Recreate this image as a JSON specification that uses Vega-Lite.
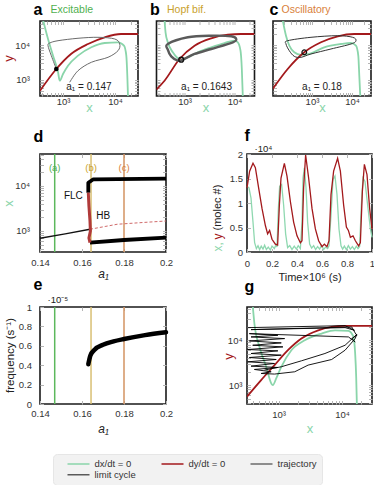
{
"$schema": "https://vega.github.io/schema/vega-lite/v6.json",
"padding": {"left": 1, "top": 0, "right": 0, "bottom": 0},
"config": {
 "font": "Liberation Sans",
 "view": {"stroke": "#1a1a1a", "strokeWidth": 1.6},
 "axis": {"grid": false, "domain": false, "tickColor": "#b5b5b5", "tickSize": -3.5, "tickWidth": 1, "labelFont": "Liberation Sans", "labelFontSize": 9.5, "labelColor": "#333333", "labelPadding": 8, "titleFont": "Liberation Sans", "titleFontWeight": "normal", "titleFontSize": 12, "titleColor": "#222222", "labelOverlap": false, "labelFlush": false},
 "legend": {"labelFont": "Liberation Sans"}
},
"datasets": {
 "nc": [
  {"p":"a","s":"dx/dt = 0","i":1,"x":413,"y":52000},
  {"p":"a","s":"dx/dt = 0","i":2,"x":515,"y":14860},
  {"p":"a","s":"dx/dt = 0","i":3,"x":643,"y":4955},
  {"p":"a","s":"dx/dt = 0","i":4,"x":802,"y":1693},
  {"p":"a","s":"dx/dt = 0","i":5,"x":865,"y":955},
  {"p":"a","s":"dx/dt = 0","i":6,"x":1000,"y":1486},
  {"p":"a","s":"dx/dt = 0","i":7,"x":1248,"y":2563},
  {"p":"a","s":"dx/dt = 0","i":8,"x":1945,"y":4955},
  {"p":"a","s":"dx/dt = 0","i":9,"x":3510,"y":8610},
  {"p":"a","s":"dx/dt = 0","i":10,"x":6340,"y":11400},
  {"p":"a","s":"dx/dt = 0","i":11,"x":11430,"y":11940},
  {"p":"a","s":"dx/dt = 0","i":12,"x":14890,"y":9550},
  {"p":"a","s":"dx/dt = 0","i":13,"x":16500,"y":4955},
  {"p":"a","s":"dx/dt = 0","i":14,"x":17260,"y":1327},
  {"p":"a","s":"dx/dt = 0","i":15,"x":17800,"y":330},
  {"p":"a","s":"dy/dt = 0","i":1,"x":361,"y":495},
  {"p":"a","s":"dy/dt = 0","i":2,"x":744,"y":2065},
  {"p":"a","s":"dy/dt = 0","i":3,"x":1425,"y":5535},
  {"p":"a","s":"dy/dt = 0","i":4,"x":3025,"y":10690},
  {"p":"a","s":"dy/dt = 0","i":5,"x":6340,"y":16600},
  {"p":"a","s":"dy/dt = 0","i":6,"x":13060,"y":20650},
  {"p":"a","s":"dy/dt = 0","i":7,"x":27700,"y":20650},
  {"p":"b","s":"dx/dt = 0","i":1,"x":398,"y":52000},
  {"p":"b","s":"dx/dt = 0","i":2,"x":417,"y":23070},
  {"p":"b","s":"dx/dt = 0","i":3,"x":463,"y":11940},
  {"p":"b","s":"dx/dt = 0","i":4,"x":583,"y":6190},
  {"p":"b","s":"dx/dt = 0","i":5,"x":735,"y":4170},
  {"p":"b","s":"dx/dt = 0","i":6,"x":859,"y":3800},
  {"p":"b","s":"dx/dt = 0","i":7,"x":1164,"y":4455},
  {"p":"b","s":"dx/dt = 0","i":8,"x":1845,"y":6190},
  {"p":"b","s":"dx/dt = 0","i":9,"x":3420,"y":8610},
  {"p":"b","s":"dx/dt = 0","i":10,"x":6310,"y":11400},
  {"p":"b","s":"dx/dt = 0","i":11,"x":10000,"y":13270},
  {"p":"b","s":"dx/dt = 0","i":12,"x":11640,"y":11940},
  {"p":"b","s":"dx/dt = 0","i":13,"x":13180,"y":6870},
  {"p":"b","s":"dx/dt = 0","i":14,"x":14000,"y":2065},
  {"p":"b","s":"dx/dt = 0","i":15,"x":14660,"y":330},
  {"p":"b","s":"dy/dt = 0","i":1,"x":272,"y":528},
  {"p":"b","s":"dy/dt = 0","i":2,"x":398,"y":955},
  {"p":"b","s":"dy/dt = 0","i":3,"x":794,"y":3981},
  {"p":"b","s":"dy/dt = 0","i":4,"x":1585,"y":9550},
  {"p":"b","s":"dy/dt = 0","i":5,"x":3420,"y":15560},
  {"p":"b","s":"dy/dt = 0","i":6,"x":7345,"y":19720},
  {"p":"b","s":"dy/dt = 0","i":7,"x":13600,"y":20650},
  {"p":"b","s":"dy/dt = 0","i":8,"x":25100,"y":20650},
  {"p":"c","s":"dx/dt = 0","i":1,"x":185,"y":52000},
  {"p":"c","s":"dx/dt = 0","i":2,"x":224,"y":18450},
  {"p":"c","s":"dx/dt = 0","i":3,"x":271,"y":9550},
  {"p":"c","s":"dx/dt = 0","i":4,"x":361,"y":6190},
  {"p":"c","s":"dx/dt = 0","i":5,"x":531,"y":5190},
  {"p":"c","s":"dx/dt = 0","i":6,"x":944,"y":5800},
  {"p":"c","s":"dx/dt = 0","i":7,"x":2030,"y":8610},
  {"p":"c","s":"dx/dt = 0","i":8,"x":5310,"y":10690},
  {"p":"c","s":"dx/dt = 0","i":9,"x":9440,"y":11400},
  {"p":"c","s":"dx/dt = 0","i":10,"x":12590,"y":9550},
  {"p":"c","s":"dx/dt = 0","i":11,"x":14380,"y":4955},
  {"p":"c","s":"dx/dt = 0","i":12,"x":15240,"y":1327},
  {"p":"c","s":"dx/dt = 0","i":13,"x":16150,"y":330},
  {"p":"c","s":"dy/dt = 0","i":1,"x":104,"y":553},
  {"p":"c","s":"dy/dt = 0","i":2,"x":247,"y":2065},
  {"p":"c","s":"dy/dt = 0","i":3,"x":642,"y":6190},
  {"p":"c","s":"dy/dt = 0","i":4,"x":1680,"y":11940},
  {"p":"c","s":"dy/dt = 0","i":5,"x":4390,"y":17740},
  {"p":"c","s":"dy/dt = 0","i":6,"x":11420,"y":20650},
  {"p":"c","s":"dy/dt = 0","i":7,"x":29850,"y":20650},
  {"p":"g","s":"dx/dt = 0","i":1,"x":391,"y":60000},
  {"p":"g","s":"dx/dt = 0","i":2,"x":416,"y":23500},
  {"p":"g","s":"dx/dt = 0","i":3,"x":499,"y":7130},
  {"p":"g","s":"dx/dt = 0","i":4,"x":638,"y":2560},
  {"p":"g","s":"dx/dt = 0","i":5,"x":766,"y":1092},
  {"p":"g","s":"dx/dt = 0","i":6,"x":811,"y":1000},
  {"p":"g","s":"dx/dt = 0","i":7,"x":918,"y":1410},
  {"p":"g","s":"dx/dt = 0","i":8,"x":1103,"y":2560},
  {"p":"g","s":"dx/dt = 0","i":9,"x":1590,"y":5995},
  {"p":"g","s":"dx/dt = 0","i":10,"x":2586,"y":10000},
  {"p":"g","s":"dx/dt = 0","i":11,"x":4760,"y":14090},
  {"p":"g","s":"dx/dt = 0","i":12,"x":7740,"y":16680},
  {"p":"g","s":"dx/dt = 0","i":13,"x":12600,"y":16180},
  {"p":"g","s":"dx/dt = 0","i":14,"x":15100,"y":11890},
  {"p":"g","s":"dx/dt = 0","i":15,"x":16070,"y":5060},
  {"p":"g","s":"dx/dt = 0","i":16,"x":16680,"y":1535},
  {"p":"g","s":"dx/dt = 0","i":17,"x":17100,"y":370},
  {"p":"g","s":"dy/dt = 0","i":1,"x":318,"y":552},
  {"p":"g","s":"dy/dt = 0","i":2,"x":531,"y":1291},
  {"p":"g","s":"dy/dt = 0","i":3,"x":863,"y":2780},
  {"p":"g","s":"dy/dt = 0","i":4,"x":1403,"y":5995},
  {"p":"g","s":"dy/dt = 0","i":5,"x":2290,"y":10910},
  {"p":"g","s":"dy/dt = 0","i":6,"x":4205,"y":16680},
  {"p":"g","s":"dy/dt = 0","i":7,"x":6860,"y":19860},
  {"p":"g","s":"dy/dt = 0","i":8,"x":11150,"y":20900},
  {"p":"g","s":"dy/dt = 0","i":9,"x":29600,"y":20900}
 ],
 "tr": [
  {"p":"a","s":"trajectory","i":1,"x":1346,"y":861},
  {"p":"a","s":"trajectory","i":2,"x":1945,"y":1845},
  {"p":"a","s":"trajectory","i":3,"x":3510,"y":3206},
  {"p":"a","s":"trajectory","i":4,"x":7345,"y":4455},
  {"p":"a","s":"trajectory","i":5,"x":11430,"y":6870},
  {"p":"a","s":"trajectory","i":6,"x":12330,"y":10690},
  {"p":"a","s":"trajectory","i":7,"x":9880,"y":14860},
  {"p":"a","s":"trajectory","i":8,"x":4710,"y":16600},
  {"p":"a","s":"trajectory","i":9,"x":1945,"y":15560},
  {"p":"a","s":"trajectory","i":10,"x":802,"y":13270},
  {"p":"a","s":"trajectory","i":11,"x":556,"y":11400},
  {"p":"a","s":"trajectory","i":12,"x":515,"y":9550},
  {"p":"a","s":"trajectory","i":13,"x":596,"y":4955},
  {"p":"a","s":"trajectory","i":14,"x":744,"y":2065},
  {"p":"b","s":"limit cycle","i":1,"x":463,"y":10690},
  {"p":"b","s":"limit cycle","i":2,"x":1164,"y":16600},
  {"p":"b","s":"limit cycle","i":3,"x":3420,"y":18450},
  {"p":"b","s":"limit cycle","i":4,"x":8590,"y":17740},
  {"p":"b","s":"limit cycle","i":5,"x":10810,"y":14860},
  {"p":"b","s":"limit cycle","i":6,"x":9250,"y":11940},
  {"p":"b","s":"limit cycle","i":7,"x":3420,"y":7690},
  {"p":"b","s":"limit cycle","i":8,"x":1585,"y":5535},
  {"p":"b","s":"limit cycle","i":9,"x":925,"y":3800},
  {"p":"b","s":"limit cycle","i":10,"x":735,"y":3565},
  {"p":"b","s":"limit cycle","i":11,"x":542,"y":4750},
  {"p":"b","s":"limit cycle","i":12,"x":463,"y":7345},
  {"p":"c","s":"limit cycle","i":1,"x":247,"y":13270},
  {"p":"c","s":"limit cycle","i":2,"x":944,"y":16600},
  {"p":"c","s":"limit cycle","i":3,"x":4390,"y":18450},
  {"p":"c","s":"limit cycle","i":4,"x":10420,"y":16600},
  {"p":"c","s":"limit cycle","i":5,"x":12590,"y":13270},
  {"p":"c","s":"limit cycle","i":6,"x":9440,"y":10690},
  {"p":"c","s":"limit cycle","i":7,"x":2985,"y":7690},
  {"p":"c","s":"limit cycle","i":8,"x":944,"y":5535},
  {"p":"c","s":"limit cycle","i":9,"x":531,"y":4455},
  {"p":"c","s":"limit cycle","i":10,"x":361,"y":4750},
  {"p":"c","s":"limit cycle","i":11,"x":271,"y":6870},
  {"p":"c","s":"limit cycle","i":12,"x":224,"y":10690},
  {"p":"g","s":"trajectory","i":1,"x":326,"y":19130},
  {"p":"g","s":"trajectory","i":2,"x":11150,"y":21180},
  {"p":"g","s":"trajectory","i":3,"x":15670,"y":16680},
  {"p":"g","s":"trajectory","i":4,"x":11150,"y":19130},
  {"p":"g","s":"trajectory","i":5,"x":368,"y":17270},
  {"p":"g","s":"trajectory","i":6,"x":14220,"y":19770},
  {"p":"g","s":"trajectory","i":7,"x":16070,"y":14550},
  {"p":"g","s":"trajectory","i":8,"x":17100,"y":12910},
  {"p":"g","s":"trajectory","i":9,"x":14220,"y":10890},
  {"p":"g","s":"trajectory","i":10,"x":16070,"y":9180},
  {"p":"g","s":"trajectory","i":11,"x":12590,"y":11860},
  {"p":"g","s":"trajectory","i":12,"x":346,"y":14060},
  {"p":"g","s":"trajectory","i":13,"x":975,"y":12910},
  {"p":"g","s":"trajectory","i":14,"x":368,"y":11860},
  {"p":"g","s":"trajectory","i":15,"x":1245,"y":10890},
  {"p":"g","s":"trajectory","i":16,"x":346,"y":9660},
  {"p":"g","s":"trajectory","i":17,"x":1102,"y":8730},
  {"p":"g","s":"trajectory","i":18,"x":391,"y":7740},
  {"p":"g","s":"trajectory","i":19,"x":1170,"y":7110},
  {"p":"g","s":"trajectory","i":20,"x":326,"y":6210},
  {"p":"g","s":"trajectory","i":21,"x":975,"y":5800},
  {"p":"g","s":"trajectory","i":22,"x":368,"y":5060},
  {"p":"g","s":"trajectory","i":23,"x":1102,"y":4650},
  {"p":"g","s":"trajectory","i":24,"x":346,"y":4120},
  {"p":"g","s":"trajectory","i":25,"x":918,"y":3720},
  {"p":"g","s":"trajectory","i":26,"x":326,"y":3300},
  {"p":"g","s":"trajectory","i":27,"x":863,"y":3030},
  {"p":"g","s":"trajectory","i":28,"x":368,"y":2645},
  {"p":"g","s":"trajectory","i":29,"x":975,"y":2470},
  {"p":"g","s":"trajectory","i":30,"x":416,"y":2230},
  {"p":"g","s":"trajectory","i":31,"x":764,"y":1980},
  {"p":"g","s":"trajectory","i":32,"x":531,"y":1815},
  {"p":"g","s":"trajectory","i":33,"x":863,"y":1760},
  {"p":"g","s":"trajectory","i":34,"x":1795,"y":1980},
  {"p":"g","s":"trajectory","i":35,"x":2920,"y":2790},
  {"p":"g","s":"trajectory","i":36,"x":6860,"y":3720},
  {"p":"g","s":"trajectory","i":37,"x":11150,"y":6000},
  {"p":"g","s":"trajectory","i":38,"x":16070,"y":10890},
  {"p":"g","s":"trajectory","i":39,"x":17100,"y":13600},
  {"p":"g","s":"trajectory","i":40,"x":11150,"y":7740},
  {"p":"g","s":"trajectory","i":41,"x":5370,"y":5060},
  {"p":"g","s":"trajectory","i":42,"x":2290,"y":3475},
  {"p":"g","s":"trajectory","i":43,"x":1102,"y":2560},
  {"p":"g","s":"trajectory","i":44,"x":599,"y":2160}
 ],
 "fp": [
  {"p":"a","x":744,"y":2065},
  {"p":"b","x":859,"y":3800},
  {"p":"c","x":642,"y":6190}
 ],
 "bif": [
  {"seg":"stable","i":1,"a1":0.14,"v":689},
  {"seg":"stable","i":2,"a1":0.152,"v":867},
  {"seg":"stable","i":3,"a1":0.1638,"v":1092},
  {"seg":"unstable","i":1,"a1":0.1638,"v":1092},
  {"seg":"unstable","i":2,"a1":0.171,"v":1259},
  {"seg":"unstable","i":3,"a1":0.1767,"v":1409},
  {"seg":"unstable","i":4,"a1":0.1876,"v":1528},
  {"seg":"unstable","i":5,"a1":0.2,"v":1667},
  {"seg":"upper","i":1,"a1":0.163,"v":7100},
  {"seg":"upper","i":2,"a1":0.163,"v":11830},
  {"seg":"upper","i":3,"a1":0.1654,"v":14090},
  {"seg":"upper","i":4,"a1":0.2,"v":14530},
  {"seg":"lower","i":1,"a1":0.1638,"v":550},
  {"seg":"lower","i":2,"a1":0.18,"v":630},
  {"seg":"lower","i":3,"a1":0.2,"v":710},
  {"seg":"red","i":1,"a1":0.163,"v":7100},
  {"seg":"red","i":2,"a1":0.1633,"v":3590},
  {"seg":"red","i":3,"a1":0.1638,"v":1667},
  {"seg":"red","i":4,"a1":0.164,"v":1000},
  {"seg":"red","i":5,"a1":0.1633,"v":698},
  {"seg":"red","i":6,"a1":0.1638,"v":550}
 ],
 "freq": [
  {"a1":0.163,"f":0.41},
  {"a1":0.164,"f":0.5},
  {"a1":0.166,"f":0.56},
  {"a1":0.17,"f":0.61},
  {"a1":0.175,"f":0.645},
  {"a1":0.18,"f":0.67},
  {"a1":0.19,"f":0.71},
  {"a1":0.2,"f":0.74}
 ],
 "vl": [
  {"k":"(a)","a1":0.147},
  {"k":"(b)","a1":0.1643},
  {"k":"(c)","a1":0.18}
 ],
 "ts": [
  {"v":"x","t":0,"n":1.34},{"v":"x","t":0.016,"n":1.31},{"v":"x","t":0.032,"n":1.1},{"v":"x","t":0.048,"n":0.61},{"v":"x","t":0.061,"n":0.19},{"v":"x","t":0.075,"n":0.07},{"v":"x","t":0.088,"n":0.13},{"v":"x","t":0.101,"n":0.05},{"v":"x","t":0.114,"n":0.12},{"v":"x","t":0.128,"n":0.06},{"v":"x","t":0.141,"n":0.14},{"v":"x","t":0.155,"n":0.05},{"v":"x","t":0.17,"n":0.1},{"v":"x","t":0.187,"n":0.04},{"v":"x","t":0.2,"n":0.12},{"v":"x","t":0.219,"n":0.07},{"v":"x","t":0.232,"n":0.15},{"v":"x","t":0.24,"n":0.1},{"v":"x","t":0.251,"n":0.89},{"v":"x","t":0.261,"n":1.34},{"v":"x","t":0.277,"n":1.375},{"v":"x","t":0.293,"n":0.96},{"v":"x","t":0.309,"n":0.37},{"v":"x","t":0.325,"n":0.09},{"v":"x","t":0.342,"n":0.13},{"v":"x","t":0.36,"n":0.05},{"v":"x","t":0.378,"n":0.12},{"v":"x","t":0.395,"n":0.06},{"v":"x","t":0.41,"n":0.13},{"v":"x","t":0.427,"n":0.07},{"v":"x","t":0.44,"n":0.61},{"v":"x","t":0.448,"n":1.51},{"v":"x","t":0.459,"n":1.72},{"v":"x","t":0.472,"n":1.31},{"v":"x","t":0.485,"n":0.61},{"v":"x","t":0.501,"n":0.16},{"v":"x","t":0.517,"n":0.08},{"v":"x","t":0.533,"n":0.13},{"v":"x","t":0.549,"n":0.05},{"v":"x","t":0.565,"n":0.11},{"v":"x","t":0.581,"n":0.06},{"v":"x","t":0.597,"n":0.14},{"v":"x","t":0.613,"n":0.05},{"v":"x","t":0.629,"n":0.1},{"v":"x","t":0.645,"n":0.07},{"v":"x","t":0.656,"n":0.125},{"v":"x","t":0.672,"n":0.75},{"v":"x","t":0.688,"n":1.48},{"v":"x","t":0.704,"n":1.55},{"v":"x","t":0.72,"n":1.17},{"v":"x","t":0.736,"n":0.47},{"v":"x","t":0.752,"n":0.125},{"v":"x","t":0.765,"n":0.06},{"v":"x","t":0.779,"n":0.12},{"v":"x","t":0.795,"n":0.05},{"v":"x","t":0.811,"n":0.13},{"v":"x","t":0.827,"n":0.06},{"v":"x","t":0.843,"n":0.11},{"v":"x","t":0.859,"n":0.05},{"v":"x","t":0.875,"n":0.12},{"v":"x","t":0.888,"n":0.07},{"v":"x","t":0.901,"n":0.11},{"v":"x","t":0.915,"n":0.96},{"v":"x","t":0.928,"n":1.51},{"v":"x","t":0.944,"n":1.44},{"v":"x","t":0.965,"n":0.96},{"v":"x","t":0.987,"n":0.47},{"v":"x","t":1.0,"n":0.3},
  {"v":"y","t":0,"n":1.31},{"v":"y","t":0.021,"n":1.65},{"v":"y","t":0.048,"n":1.81},{"v":"y","t":0.067,"n":1.72},{"v":"y","t":0.093,"n":1.31},{"v":"y","t":0.12,"n":0.89},{"v":"y","t":0.147,"n":0.54},{"v":"y","t":0.165,"n":0.37},{"v":"y","t":0.181,"n":0.44},{"v":"y","t":0.2,"n":0.26},{"v":"y","t":0.227,"n":0.16},{"v":"y","t":0.245,"n":0.14},{"v":"y","t":0.259,"n":0.96},{"v":"y","t":0.272,"n":1.51},{"v":"y","t":0.299,"n":1.81},{"v":"y","t":0.32,"n":1.55},{"v":"y","t":0.347,"n":1.03},{"v":"y","t":0.373,"n":0.61},{"v":"y","t":0.4,"n":0.33},{"v":"y","t":0.427,"n":0.19},{"v":"y","t":0.44,"n":0.23},{"v":"y","t":0.453,"n":1.31},{"v":"y","t":0.469,"n":1.98},{"v":"y","t":0.493,"n":1.51},{"v":"y","t":0.52,"n":0.89},{"v":"y","t":0.547,"n":0.47},{"v":"y","t":0.573,"n":0.23},{"v":"y","t":0.6,"n":0.11},{"v":"y","t":0.619,"n":0.16},{"v":"y","t":0.64,"n":0.11},{"v":"y","t":0.656,"n":0.23},{"v":"y","t":0.672,"n":1.17},{"v":"y","t":0.693,"n":1.65},{"v":"y","t":0.725,"n":1.91},{"v":"y","t":0.747,"n":1.65},{"v":"y","t":0.773,"n":0.96},{"v":"y","t":0.795,"n":0.51},{"v":"y","t":0.811,"n":0.44},{"v":"y","t":0.827,"n":0.3},{"v":"y","t":0.848,"n":0.33},{"v":"y","t":0.867,"n":0.23},{"v":"y","t":0.893,"n":0.125},{"v":"y","t":0.907,"n":0.19},{"v":"y","t":0.923,"n":1.24},{"v":"y","t":0.939,"n":1.79},{"v":"y","t":0.96,"n":1.58},{"v":"y","t":0.981,"n":0.89},{"v":"y","t":1.0,"n":0.47}
 ]
},
"resolve": {"scale": {"color": "shared", "stroke": "shared", "fill": "shared"}},
"spacing": 10,
"vconcat": [
 {"hconcat": [
  {"width": 98, "height": 75,
   "layer": [
    {"data": {"name": "nc"}, "transform": [{"filter": "datum.p == 'a' && datum.s == 'dx/dt = 0'"}],
     "mark": {"type": "line", "clip": true, "strokeWidth": 1.8, "interpolate": "monotone"},
     "encoding": {
      "x": {"field": "x", "type": "quantitative", "scale": {"type": "log", "domain": [361, 27700], "nice": false}, "axis": {"orient": "bottom", "values": [400,500,600,700,800,900,1000,2000,3000,4000,5000,6000,7000,8000,9000,10000,20000], "labelExpr": "datum.value == 1000 ? '10³' : datum.value == 10000 ? '10⁴' : ''", "labelPadding": 3.5, "title": "x", "titleColor": "#8ad5aa", "titleFontSize": 13, "titleY": 11.5, "titleBaseline": "middle"}},
      "y": {"field": "y", "type": "quantitative", "scale": {"type": "log", "domain": [349, 48500], "nice": false}, "axis": {"orient": "left", "values": [400,500,600,700,800,900,1000,2000,3000,4000,5000,6000,7000,8000,9000,10000,20000,30000,40000], "labelExpr": "datum.value == 1000 ? '10³' : datum.value == 10000 ? '10⁴' : ''", "labelPadding": 14, "title": "y", "titleColor": "#a3191c", "titleFontSize": 13, "titleX": -32, "titleY": 37, "titleBaseline": "middle"}},
      "order": {"field": "i", "type": "quantitative"},
      "color": {"field": "s", "type": "nominal", "scale": {"domain": ["dx/dt = 0","dy/dt = 0","trajectory","limit cycle"], "range": ["#8ad5aa","#a3191c","#6b6b6b","#5a5a5a"]},
       "legend": {"orient": "none", "legendX": 13, "legendY": 433, "direction": "horizontal", "columns": 3, "title": null, "symbolType": "stroke", "symbolSize": 484, "symbolStrokeWidth": 1.5, "labelFontSize": 9.5, "labelColor": "#333333", "fillColor": "#f2f2f2", "strokeColor": "#e6e6e6", "cornerRadius": 4, "padding": 4.5, "symbolOffset": 9, "columnPadding": 15, "rowPadding": 0, "labelOffset": 4, "clipHeight": 10.5}}
     }},
    {"data": {"name": "nc"}, "transform": [{"filter": "datum.p == 'a' && datum.s == 'dy/dt = 0'"}],
     "mark": {"type": "line", "clip": true, "strokeWidth": 1.8, "interpolate": "monotone"},
     "encoding": {
      "x": {"field": "x", "type": "quantitative", "scale": {"type": "log", "domain": [361, 27700], "nice": false}, "axis": {"orient": "top", "values": [400,500,600,700,800,900,1000,2000,3000,4000,5000,6000,7000,8000,9000,10000,20000], "labels": false, "title": "Excitable", "titleColor": "#4fb04f", "titleFontSize": 10.5, "titleX": 10, "titleY": -12, "titleAlign": "left", "titleBaseline": "middle", "titleAngle": 0}},
      "y": {"field": "y", "type": "quantitative", "scale": {"type": "log", "domain": [349, 48500], "nice": false}, "axis": {"orient": "right", "values": [400,500,600,700,800,900,1000,2000,3000,4000,5000,6000,7000,8000,9000,10000,20000,30000,40000], "labels": false, "title": null}},
      "order": {"field": "i", "type": "quantitative"},
      "color": {"field": "s", "type": "nominal", "scale": {"domain": ["dx/dt = 0","dy/dt = 0","trajectory","limit cycle"], "range": ["#8ad5aa","#a3191c","#6b6b6b","#5a5a5a"]}, "legend": null}
     }},
    {"data": {"name": "tr"}, "transform": [{"filter": "datum.p == 'a'"}],
     "mark": {"type": "line", "clip": true, "strokeWidth": 1, "interpolate": "cardinal"},
     "encoding": {
      "x": {"field": "x", "type": "quantitative", "scale": {"type": "log", "domain": [361, 27700], "nice": false}, "axis": {"orient": "top", "ticks": false, "labels": false, "title": "a", "titleFontSize": 16, "titleFontWeight": "bold", "titleColor": "#000000", "titleX": -7, "titleY": -11.5, "titleAlign": "left", "titleBaseline": "middle", "titleAngle": 0}},
      "y": {"field": "y", "type": "quantitative", "scale": {"type": "log", "domain": [349, 48500], "nice": false}, "axis": null},
      "order": {"field": "i", "type": "quantitative"},
      "color": {"field": "s", "type": "nominal", "scale": {"domain": ["dx/dt = 0","dy/dt = 0","trajectory","limit cycle"], "range": ["#8ad5aa","#a3191c","#6b6b6b","#5a5a5a"]}, "legend": null}
     }},
    {"data": {"name": "fp"}, "transform": [{"filter": "datum.p == 'a'"}],
     "mark": {"type": "point", "filled": true, "color": "#000000", "size": 22, "opacity": 1},
     "encoding": {
      "x": {"field": "x", "type": "quantitative", "scale": {"type": "log", "domain": [361, 27700], "nice": false}, "axis": null},
      "y": {"field": "y", "type": "quantitative", "scale": {"type": "log", "domain": [349, 48500], "nice": false}, "axis": null}
     }},
    {"data": {"values": [{}]},
     "mark": {"type": "text", "text": "a₁ = 0.147", "fontSize": 10, "color": "#222222"},
     "encoding": {
      "x": {"datum": 3160, "type": "quantitative", "scale": {"type": "log", "domain": [361, 27700], "nice": false}, "axis": null},
      "y": {"datum": 631, "type": "quantitative", "scale": {"type": "log", "domain": [349, 48500], "nice": false}, "axis": null}
     }}
   ],
   "resolve": {"axis": {"x": "independent", "y": "independent"}}
  },
  {"width": 98, "height": 75,
   "layer": [
    {"data": {"name": "nc"}, "transform": [{"filter": "datum.p == 'b' && datum.s == 'dx/dt = 0'"}],
     "mark": {"type": "line", "clip": true, "strokeWidth": 1.8, "interpolate": "monotone"},
     "encoding": {
      "x": {"field": "x", "type": "quantitative", "scale": {"type": "log", "domain": [275, 25100], "nice": false}, "axis": {"orient": "bottom", "values": [300,400,500,600,700,800,900,1000,2000,3000,4000,5000,6000,7000,8000,9000,10000,20000], "labelExpr": "datum.value == 1000 ? '10³' : datum.value == 10000 ? '10⁴' : ''", "labelPadding": 3.5, "title": "x", "titleColor": "#8ad5aa", "titleFontSize": 13, "titleY": 11.5, "titleBaseline": "middle"}},
      "y": {"field": "y", "type": "quantitative", "scale": {"type": "log", "domain": [349, 48500], "nice": false}, "axis": {"orient": "left", "values": [400,500,600,700,800,900,1000,2000,3000,4000,5000,6000,7000,8000,9000,10000,20000,30000,40000], "labels": false, "title": null}},
      "order": {"field": "i", "type": "quantitative"},
      "color": {"field": "s", "type": "nominal", "scale": {"domain": ["dx/dt = 0","dy/dt = 0","trajectory","limit cycle"], "range": ["#8ad5aa","#a3191c","#6b6b6b","#5a5a5a"]}, "legend": null}
     }},
    {"data": {"name": "nc"}, "transform": [{"filter": "datum.p == 'b' && datum.s == 'dy/dt = 0'"}],
     "mark": {"type": "line", "clip": true, "strokeWidth": 1.8, "interpolate": "monotone"},
     "encoding": {
      "x": {"field": "x", "type": "quantitative", "scale": {"type": "log", "domain": [275, 25100], "nice": false}, "axis": {"orient": "top", "values": [300,400,500,600,700,800,900,1000,2000,3000,4000,5000,6000,7000,8000,9000,10000,20000], "labels": false, "title": "Hopf bif.", "titleColor": "#c9a12c", "titleFontSize": 10.5, "titleX": 10, "titleY": -12, "titleAlign": "left", "titleBaseline": "middle", "titleAngle": 0}},
      "y": {"field": "y", "type": "quantitative", "scale": {"type": "log", "domain": [349, 48500], "nice": false}, "axis": {"orient": "right", "values": [400,500,600,700,800,900,1000,2000,3000,4000,5000,6000,7000,8000,9000,10000,20000,30000,40000], "labels": false, "title": null}},
      "order": {"field": "i", "type": "quantitative"},
      "color": {"field": "s", "type": "nominal", "scale": {"domain": ["dx/dt = 0","dy/dt = 0","trajectory","limit cycle"], "range": ["#8ad5aa","#a3191c","#6b6b6b","#5a5a5a"]}, "legend": null}
     }},
    {"data": {"name": "tr"}, "transform": [{"filter": "datum.p == 'b'"}],
     "mark": {"type": "line", "clip": true, "strokeWidth": 2.4, "interpolate": "cardinal-closed"},
     "encoding": {
      "x": {"field": "x", "type": "quantitative", "scale": {"type": "log", "domain": [275, 25100], "nice": false}, "axis": {"orient": "top", "ticks": false, "labels": false, "title": "b", "titleFontSize": 16, "titleFontWeight": "bold", "titleColor": "#000000", "titleX": -7, "titleY": -11.5, "titleAlign": "left", "titleBaseline": "middle", "titleAngle": 0}},
      "y": {"field": "y", "type": "quantitative", "scale": {"type": "log", "domain": [349, 48500], "nice": false}, "axis": null},
      "order": {"field": "i", "type": "quantitative"},
      "color": {"field": "s", "type": "nominal", "scale": {"domain": ["dx/dt = 0","dy/dt = 0","trajectory","limit cycle"], "range": ["#8ad5aa","#a3191c","#6b6b6b","#5a5a5a"]}, "legend": null}
     }},
    {"data": {"name": "fp"}, "transform": [{"filter": "datum.p == 'b'"}],
     "mark": {"type": "point", "filled": false, "color": "#111111", "strokeWidth": 1.3, "size": 24, "opacity": 1},
     "encoding": {
      "x": {"field": "x", "type": "quantitative", "scale": {"type": "log", "domain": [275, 25100], "nice": false}, "axis": null},
      "y": {"field": "y", "type": "quantitative", "scale": {"type": "log", "domain": [349, 48500], "nice": false}, "axis": null}
     }},
    {"data": {"values": [{}]},
     "mark": {"type": "text", "text": "a₁ = 0.1643", "fontSize": 10, "color": "#222222"},
     "encoding": {
      "x": {"datum": 2754, "type": "quantitative", "scale": {"type": "log", "domain": [275, 25100], "nice": false}, "axis": null},
      "y": {"datum": 631, "type": "quantitative", "scale": {"type": "log", "domain": [349, 48500], "nice": false}, "axis": null}
     }}
   ],
   "resolve": {"axis": {"x": "independent", "y": "independent"}}
  },
  {"width": 98, "height": 75,
   "layer": [
    {"data": {"name": "nc"}, "transform": [{"filter": "datum.p == 'c' && datum.s == 'dx/dt = 0'"}],
     "mark": {"type": "line", "clip": true, "strokeWidth": 1.8, "interpolate": "monotone"},
     "encoding": {
      "x": {"field": "x", "type": "quantitative", "scale": {"type": "log", "domain": [106, 29900], "nice": false}, "axis": {"orient": "bottom", "values": [200,300,400,500,600,700,800,900,1000,2000,3000,4000,5000,6000,7000,8000,9000,10000,20000], "labelExpr": "datum.value == 1000 ? '10³' : datum.value == 10000 ? '10⁴' : ''", "labelPadding": 3.5, "title": "x", "titleColor": "#8ad5aa", "titleFontSize": 13, "titleY": 11.5, "titleBaseline": "middle"}},
      "y": {"field": "y", "type": "quantitative", "scale": {"type": "log", "domain": [349, 48500], "nice": false}, "axis": {"orient": "left", "values": [400,500,600,700,800,900,1000,2000,3000,4000,5000,6000,7000,8000,9000,10000,20000,30000,40000], "labels": false, "title": null}},
      "order": {"field": "i", "type": "quantitative"},
      "color": {"field": "s", "type": "nominal", "scale": {"domain": ["dx/dt = 0","dy/dt = 0","trajectory","limit cycle"], "range": ["#8ad5aa","#a3191c","#6b6b6b","#5a5a5a"]}, "legend": null}
     }},
    {"data": {"name": "nc"}, "transform": [{"filter": "datum.p == 'c' && datum.s == 'dy/dt = 0'"}],
     "mark": {"type": "line", "clip": true, "strokeWidth": 1.8, "interpolate": "monotone"},
     "encoding": {
      "x": {"field": "x", "type": "quantitative", "scale": {"type": "log", "domain": [106, 29900], "nice": false}, "axis": {"orient": "top", "values": [200,300,400,500,600,700,800,900,1000,2000,3000,4000,5000,6000,7000,8000,9000,10000,20000], "labels": false, "title": "Oscillatory", "titleColor": "#d9803a", "titleFontSize": 10.5, "titleX": 8, "titleY": -12, "titleAlign": "left", "titleBaseline": "middle", "titleAngle": 0}},
      "y": {"field": "y", "type": "quantitative", "scale": {"type": "log", "domain": [349, 48500], "nice": false}, "axis": {"orient": "right", "values": [400,500,600,700,800,900,1000,2000,3000,4000,5000,6000,7000,8000,9000,10000,20000,30000,40000], "labels": false, "title": null}},
      "order": {"field": "i", "type": "quantitative"},
      "color": {"field": "s", "type": "nominal", "scale": {"domain": ["dx/dt = 0","dy/dt = 0","trajectory","limit cycle"], "range": ["#8ad5aa","#a3191c","#6b6b6b","#5a5a5a"]}, "legend": null}
     }},
    {"data": {"name": "tr"}, "transform": [{"filter": "datum.p == 'c'"}],
     "mark": {"type": "line", "clip": true, "strokeWidth": 1, "interpolate": "cardinal-closed", "color": "#333333"},
     "encoding": {
      "x": {"field": "x", "type": "quantitative", "scale": {"type": "log", "domain": [106, 29900], "nice": false}, "axis": {"orient": "top", "ticks": false, "labels": false, "title": "c", "titleFontSize": 16, "titleFontWeight": "bold", "titleColor": "#000000", "titleX": -4, "titleY": -11.5, "titleAlign": "left", "titleBaseline": "middle", "titleAngle": 0}},
      "y": {"field": "y", "type": "quantitative", "scale": {"type": "log", "domain": [349, 48500], "nice": false}, "axis": null},
      "order": {"field": "i", "type": "quantitative"}
     }},
    {"data": {"name": "fp"}, "transform": [{"filter": "datum.p == 'c'"}],
     "mark": {"type": "point", "filled": false, "color": "#111111", "strokeWidth": 1.2, "size": 22, "opacity": 1},
     "encoding": {
      "x": {"field": "x", "type": "quantitative", "scale": {"type": "log", "domain": [106, 29900], "nice": false}, "axis": null},
      "y": {"field": "y", "type": "quantitative", "scale": {"type": "log", "domain": [349, 48500], "nice": false}, "axis": null}
     }},
    {"data": {"values": [{}]},
     "mark": {"type": "text", "text": "a₁ = 0.18", "fontSize": 10, "color": "#222222"},
     "encoding": {
      "x": {"datum": 1778, "type": "quantitative", "scale": {"type": "log", "domain": [106, 29900], "nice": false}, "axis": null},
      "y": {"datum": 631, "type": "quantitative", "scale": {"type": "log", "domain": [349, 48500], "nice": false}, "axis": null}
     }}
   ],
   "resolve": {"axis": {"x": "independent", "y": "independent"}}
  }
 ], "spacing": 18.5, "bounds": "flush"},
 {"vconcat": [
 {"hconcat": [
  {"width": 126, "height": 98,
   "layer": [
    {"data": {"name": "vl"}, "mark": {"type": "rule", "strokeWidth": 1.5},
     "encoding": {
      "x": {"field": "a1", "type": "quantitative", "scale": {"domain": [0.14, 0.2], "nice": false, "zero": false}, "axis": null},
      "stroke": {"field": "k", "type": "nominal", "scale": {"domain": ["(a)","(b)","(c)"], "range": ["#5cb85c","#d9bf73","#d39362"]}, "legend": null}
     }},
    {"data": {"name": "vl"}, "mark": {"type": "text", "fontSize": 9.5},
     "encoding": {
      "x": {"field": "a1", "type": "quantitative", "scale": {"domain": [0.14, 0.2], "nice": false, "zero": false}, "axis": null},
      "y": {"datum": 25100, "type": "quantitative", "scale": {"type": "log", "domain": [341, 51400], "nice": false}, "axis": null},
      "text": {"field": "k"},
      "fill": {"field": "k", "type": "nominal", "scale": {"domain": ["(a)","(b)","(c)"], "range": ["#4fae4f","#c9a12c","#d9803a"]}, "legend": null}
     }},
    {"data": {"name": "bif"}, "transform": [{"filter": "datum.seg == 'stable'"}],
     "mark": {"type": "line", "color": "#111111", "strokeWidth": 1.3},
     "encoding": {
      "x": {"field": "a1", "type": "quantitative", "scale": {"domain": [0.14, 0.2], "nice": false, "zero": false}, "axis": {"orient": "bottom", "values": [0.14,0.16,0.18,0.2], "format": "~g", "labelPadding": 8.5, "title": "a₁", "titleFontStyle": "italic", "titleFontSize": 12, "titleY": 21, "titleBaseline": "middle"}},
      "y": {"field": "v", "type": "quantitative", "scale": {"type": "log", "domain": [341, 51400], "nice": false}, "axis": {"orient": "left", "values": [400,500,600,700,800,900,1000,2000,3000,4000,5000,6000,7000,8000,9000,10000,20000,30000,40000,50000], "labelExpr": "datum.value == 1000 ? '10³' : datum.value == 10000 ? '10⁴' : ''", "labelPadding": 14, "title": "x", "titleColor": "#8ad5aa", "titleFontSize": 13, "titleX": -31.5, "titleY": 49, "titleBaseline": "middle"}},
      "order": {"field": "i", "type": "quantitative"}
     }},
    {"data": {"name": "bif"}, "transform": [{"filter": "datum.seg == 'unstable'"}],
     "mark": {"type": "line", "color": "#d06a6a", "strokeWidth": 1, "strokeDash": [3, 2]},
     "encoding": {
      "x": {"field": "a1", "type": "quantitative", "scale": {"domain": [0.14, 0.2], "nice": false, "zero": false}, "axis": {"orient": "top", "values": [0.14,0.16,0.18,0.2], "labels": false, "title": null}},
      "y": {"field": "v", "type": "quantitative", "scale": {"type": "log", "domain": [341, 51400], "nice": false}, "axis": {"orient": "right", "values": [400,500,600,700,800,900,1000,2000,3000,4000,5000,6000,7000,8000,9000,10000,20000,30000,40000,50000], "labels": false, "title": null}},
      "order": {"field": "i", "type": "quantitative"}
     }},
    {"data": {"name": "bif"}, "transform": [{"filter": "datum.seg == 'upper' || datum.seg == 'lower'"}],
     "mark": {"type": "line", "color": "#000000", "strokeWidth": 3.8, "strokeJoin": "round"},
     "encoding": {
      "x": {"field": "a1", "type": "quantitative", "scale": {"domain": [0.14, 0.2], "nice": false, "zero": false}, "axis": {"orient": "top", "ticks": false, "labels": false, "title": "d", "titleFontSize": 16, "titleFontWeight": "bold", "titleColor": "#000000", "titleX": -7, "titleY": -18, "titleAlign": "left", "titleBaseline": "middle", "titleAngle": 0}},
      "y": {"field": "v", "type": "quantitative", "scale": {"type": "log", "domain": [341, 51400], "nice": false}, "axis": null},
      "detail": {"field": "seg"},
      "order": {"field": "i", "type": "quantitative"}
     }},
    {"data": {"name": "bif"}, "transform": [{"filter": "datum.seg == 'red'"}],
     "mark": {"type": "line", "color": "#b03a3a", "strokeWidth": 3},
     "encoding": {
      "x": {"field": "a1", "type": "quantitative", "scale": {"domain": [0.14, 0.2], "nice": false, "zero": false}, "axis": null},
      "y": {"field": "v", "type": "quantitative", "scale": {"type": "log", "domain": [341, 51400], "nice": false}, "axis": null},
      "order": {"field": "i", "type": "quantitative"}
     }},
    {"data": {"values": [{}]},
     "mark": {"type": "text", "text": "FLC", "fontSize": 10, "color": "#111111"},
     "encoding": {
      "x": {"datum": 0.1559, "type": "quantitative", "scale": {"domain": [0.14, 0.2], "nice": false, "zero": false}, "axis": null},
      "y": {"datum": 6000, "type": "quantitative", "scale": {"type": "log", "domain": [341, 51400], "nice": false}, "axis": null}
     }},
    {"data": {"values": [{}]},
     "mark": {"type": "text", "text": "HB", "fontSize": 10, "color": "#111111"},
     "encoding": {
      "x": {"datum": 0.1701, "type": "quantitative", "scale": {"domain": [0.14, 0.2], "nice": false, "zero": false}, "axis": null},
      "y": {"datum": 2150, "type": "quantitative", "scale": {"type": "log", "domain": [341, 51400], "nice": false}, "axis": null}
     }}
   ],
   "resolve": {"axis": {"x": "independent", "y": "independent"}}
  },
  {"width": 125, "height": 98,
   "layer": [
    {"data": {"name": "ts"}, "transform": [{"filter": "datum.v == 'x'"}],
     "mark": {"type": "line", "color": "#8fd8b0", "strokeWidth": 1.3},
     "encoding": {
      "x": {"field": "t", "type": "quantitative", "scale": {"domain": [0, 1], "nice": false}, "axis": {"orient": "bottom", "values": [0,0.2,0.4,0.6,0.8,1], "format": "~g", "labelPadding": 9.5, "title": "Time×10⁶ (s)", "titleFontSize": 11, "titleY": 25, "titleBaseline": "middle"}},
      "y": {"field": "n", "type": "quantitative", "scale": {"domain": [0, 2], "nice": false}, "axis": {"orient": "left", "values": [0,0.5,1,1.5,2], "format": "~g", "labelPadding": 8, "title": "(molec #)", "titleFontSize": 11, "titleX": -30, "titleY": 76, "titleAlign": "left", "titleBaseline": "middle", "titleAngle": -90}},
      "order": {"field": "t", "type": "quantitative"}
     }},
    {"data": {"name": "ts"}, "transform": [{"filter": "datum.v == 'y'"}],
     "mark": {"type": "line", "color": "#a3191c", "strokeWidth": 1.3},
     "encoding": {
      "x": {"field": "t", "type": "quantitative", "scale": {"domain": [0, 1], "nice": false}, "axis": {"orient": "top", "values": [0,0.2,0.4,0.6,0.8,1], "labels": false, "title": "·10⁴", "titleFontSize": 9.5, "titleX": 7, "titleY": -6, "titleAlign": "left", "titleBaseline": "middle", "titleAngle": 0}},
      "y": {"field": "n", "type": "quantitative", "scale": {"domain": [0, 2], "nice": false}, "axis": {"orient": "right", "values": [0,0.5,1,1.5,2], "labels": false, "title": null}},
      "order": {"field": "t", "type": "quantitative"}
     }},
    {"data": {"name": "ts"}, "transform": [{"filter": "datum.v == 'x'"}],
     "mark": {"type": "line", "opacity": 0},
     "encoding": {
      "x": {"field": "t", "type": "quantitative", "scale": {"domain": [0, 1], "nice": false}, "axis": {"orient": "top", "ticks": false, "labels": false, "title": "f", "titleFontSize": 16, "titleFontWeight": "bold", "titleColor": "#000000", "titleX": -3, "titleY": -19, "titleAlign": "left", "titleBaseline": "middle", "titleAngle": 0}},
      "y": {"field": "n", "type": "quantitative", "scale": {"domain": [0, 2], "nice": false}, "axis": {"orient": "left", "ticks": false, "labels": false, "title": "x,", "titleColor": "#8ad5aa", "titleFontSize": 12, "titleX": -30, "titleY": 97, "titleAlign": "left", "titleBaseline": "middle", "titleAngle": -90}}
     }},
    {"data": {"name": "ts"}, "transform": [{"filter": "datum.v == 'y'"}],
     "mark": {"type": "line", "opacity": 0},
     "encoding": {
      "x": {"field": "t", "type": "quantitative", "scale": {"domain": [0, 1], "nice": false}, "axis": null},
      "y": {"field": "n", "type": "quantitative", "scale": {"domain": [0, 2], "nice": false}, "axis": {"orient": "left", "ticks": false, "labels": false, "title": "y", "titleColor": "#a3191c", "titleFontSize": 12, "titleX": -30, "titleY": 85, "titleAlign": "left", "titleBaseline": "middle", "titleAngle": -90}}
     }}
   ],
   "resolve": {"axis": {"x": "independent", "y": "independent"}}
  }
 ], "spacing": 81, "bounds": "flush"},
 {"hconcat": [
  {"width": 126, "height": 97,
   "layer": [
    {"data": {"name": "vl"}, "mark": {"type": "rule", "strokeWidth": 1.5},
     "encoding": {
      "x": {"field": "a1", "type": "quantitative", "scale": {"domain": [0.14, 0.2], "nice": false, "zero": false}, "axis": {"orient": "top", "ticks": false, "labels": false, "title": "e", "titleFontSize": 16, "titleFontWeight": "bold", "titleColor": "#000000", "titleX": -7, "titleY": -23, "titleAlign": "left", "titleBaseline": "middle", "titleAngle": 0}},
      "stroke": {"field": "k", "type": "nominal", "scale": {"domain": ["(a)","(b)","(c)"], "range": ["#5cb85c","#d9bf73","#d39362"]}, "legend": null}
     }},
    {"data": {"name": "freq"},
     "mark": {"type": "line", "color": "#000000", "strokeWidth": 4.5, "strokeCap": "round", "interpolate": "monotone"},
     "encoding": {
      "x": {"field": "a1", "type": "quantitative", "scale": {"domain": [0.14, 0.2], "nice": false, "zero": false}, "axis": {"orient": "bottom", "values": [0.14,0.16,0.18,0.2], "format": "~g", "labelPadding": 8, "title": "a₁", "titleFontStyle": "italic", "titleFontSize": 12, "titleY": 24, "titleBaseline": "middle"}},
      "y": {"field": "f", "type": "quantitative", "scale": {"domain": [0, 1], "nice": false}, "axis": {"orient": "left", "values": [0,0.2,0.4,0.6,0.8,1], "format": "~g", "labelPadding": 12, "title": "frequency (s⁻¹)", "titleFontSize": 11.5, "titleX": -30, "titleY": 48, "titleBaseline": "middle"}}
     }},
    {"data": {"name": "freq"},
     "mark": {"type": "line", "opacity": 0},
     "encoding": {
      "x": {"field": "a1", "type": "quantitative", "scale": {"domain": [0.14, 0.2], "nice": false, "zero": false}, "axis": {"orient": "top", "values": [0.14,0.16,0.18,0.2], "labels": false, "title": "·10⁻⁵", "titleFontSize": 9.5, "titleX": 7, "titleY": -8, "titleAlign": "left", "titleBaseline": "middle", "titleAngle": 0}},
      "y": {"field": "f", "type": "quantitative", "scale": {"domain": [0, 1], "nice": false}, "axis": {"orient": "right", "values": [0,0.2,0.4,0.6,0.8,1], "labels": false, "title": null}}
     }}
   ],
   "resolve": {"axis": {"x": "independent", "y": "independent"}}
  },
  {"width": 125, "height": 97,
   "layer": [
    {"data": {"name": "nc"}, "transform": [{"filter": "datum.p == 'g' && datum.s == 'dx/dt = 0'"}],
     "mark": {"type": "line", "clip": true, "strokeWidth": 1.8, "interpolate": "monotone"},
     "encoding": {
      "x": {"field": "x", "type": "quantitative", "scale": {"type": "log", "domain": [318, 29600], "nice": false}, "axis": {"orient": "bottom", "values": [400,500,600,700,800,900,1000,2000,3000,4000,5000,6000,7000,8000,9000,10000,20000], "labelExpr": "datum.value == 1000 ? '10³' : datum.value == 10000 ? '10⁴' : ''", "labelPadding": 9, "title": "x", "titleColor": "#8ad5aa", "titleFontSize": 13, "titleY": 24, "titleBaseline": "middle"}},
      "y": {"field": "y", "type": "quantitative", "scale": {"type": "log", "domain": [378, 55200], "nice": false}, "axis": {"orient": "left", "values": [400,500,600,700,800,900,1000,2000,3000,4000,5000,6000,7000,8000,9000,10000,20000,30000,40000,50000], "labelExpr": "datum.value == 1000 ? '10³' : datum.value == 10000 ? '10⁴' : ''", "labelPadding": 8.5, "title": "y", "titleColor": "#a3191c", "titleFontSize": 13, "titleX": -19, "titleY": 49, "titleBaseline": "middle"}},
      "order": {"field": "i", "type": "quantitative"},
      "color": {"field": "s", "type": "nominal", "scale": {"domain": ["dx/dt = 0","dy/dt = 0","trajectory","limit cycle"], "range": ["#8ad5aa","#a3191c","#6b6b6b","#5a5a5a"]}, "legend": null}
     }},
    {"data": {"name": "nc"}, "transform": [{"filter": "datum.p == 'g' && datum.s == 'dy/dt = 0'"}],
     "mark": {"type": "line", "clip": true, "strokeWidth": 1.8, "interpolate": "monotone"},
     "encoding": {
      "x": {"field": "x", "type": "quantitative", "scale": {"type": "log", "domain": [318, 29600], "nice": false}, "axis": {"orient": "top", "values": [400,500,600,700,800,900,1000,2000,3000,4000,5000,6000,7000,8000,9000,10000,20000], "labels": false, "title": null}},
      "y": {"field": "y", "type": "quantitative", "scale": {"type": "log", "domain": [378, 55200], "nice": false}, "axis": {"orient": "right", "values": [400,500,600,700,800,900,1000,2000,3000,4000,5000,6000,7000,8000,9000,10000,20000,30000,40000,50000], "labels": false, "title": null}},
      "order": {"field": "i", "type": "quantitative"},
      "color": {"field": "s", "type": "nominal", "scale": {"domain": ["dx/dt = 0","dy/dt = 0","trajectory","limit cycle"], "range": ["#8ad5aa","#a3191c","#6b6b6b","#5a5a5a"]}, "legend": null}
     }},
    {"data": {"name": "tr"}, "transform": [{"filter": "datum.p == 'g'"}],
     "mark": {"type": "line", "clip": true, "strokeWidth": 0.9, "color": "#000000"},
     "encoding": {
      "x": {"field": "x", "type": "quantitative", "scale": {"type": "log", "domain": [318, 29600], "nice": false}, "axis": {"orient": "top", "ticks": false, "labels": false, "title": "g", "titleFontSize": 16, "titleFontWeight": "bold", "titleColor": "#000000", "titleX": -3, "titleY": -21, "titleAlign": "left", "titleBaseline": "middle", "titleAngle": 0}},
      "y": {"field": "y", "type": "quantitative", "scale": {"type": "log", "domain": [378, 55200], "nice": false}, "axis": null},
      "order": {"field": "i", "type": "quantitative"}
     }}
   ],
   "resolve": {"axis": {"x": "independent", "y": "independent"}}
  }
 ], "spacing": 81, "bounds": "flush"}
 ], "spacing": -8}
]
}
